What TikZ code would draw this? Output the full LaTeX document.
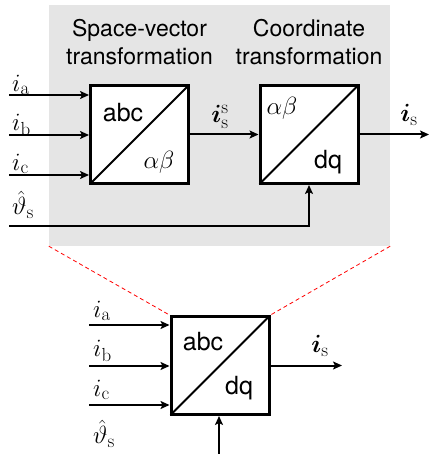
\documentclass[tikz,border=0pt]{standalone}
\usepackage{fontspec}
\setsansfont{TeX Gyre Heros}
\usepackage{amsmath,bm}
\usetikzlibrary{arrows.meta}
\definecolor{bggrey}{RGB}{229,229,229}
\begin{document}
\begin{tikzpicture}[x=1pt,y=-1pt,
  every node/.style={font=\fontsize{27}{32}\selectfont, inner sep=0},
  blk/.style={draw, line width=3pt, minimum width=98pt, minimum height=98pt, fill=white},
  sig/.style={line width=2pt, -{Stealth[length=9pt,width=8pt,inset=2pt]}},
  diag/.style={line width=2pt, shorten <=1.5pt, shorten >=1.5pt},
  lbl/.style={anchor=west},
  txt/.style={font=\sffamily\fontsize{23}{28}\selectfont, align=center},
  btxt/.style={font=\sffamily\fontsize{25}{30}\selectfont},
  zoomline/.style={red, dashed, line width=0.8pt, dash pattern=on 4pt off 3pt}]
\path[use as bounding box] (0,0) rectangle (430,454);
% grey background
\node[fill=bggrey, minimum width=341pt, minimum height=241pt] (bg) at (219.5,125.5) {};
% titles
\node[txt] (t1) at (139.5,42) {Space-vector\\transformation};
\node[txt] (t2) at (309,42) {Coordinate\\transformation};
% blocks
\node[blk] (b1) at (139.5,134.5) {};
\node[blk] (b2) at (309,134.5) {};
\node[blk] (b3) at (220,365.5) {};
\draw[diag] (b1.south west) -- (b1.north east);
\draw[diag] (b2.south west) -- (b2.north east);
\draw[diag] (b3.south west) -- (b3.north east);
% block texts
\node[btxt] (abc1) at (123,113) {abc};
\node (ab1) at (159,162) {$\alpha\beta$};
\node (ab2) at (282,108) {$\alpha\beta$};
\node[btxt] (dq2) at (328,162) {dq};
\node[btxt] (abc3) at (203,342) {abc};
\node[btxt] (dq3) at (239,388) {dq};
% top inputs
\coordinate (ia0) at (9,95);
\coordinate (ib0) at (9,135);
\coordinate (ic0) at (9,175);
\coordinate (th0) at (9,226);
\draw[sig] (ia0) -- (ia0 -| b1.west);
\draw[sig] (ib0) -- (ib0 -| b1.west);
\draw[sig] (ic0) -- (ic0 -| b1.west);
\draw[sig] (th0) -| (b2.south);
\node[lbl] (lia) at (12,85) {$i_{\mathrm{a}}$};
\node[lbl] (lib) at (12,125) {$i_{\mathrm{b}}$};
\node[lbl] (lic) at (12,164) {$i_{\mathrm{c}}$};
\node[lbl] (lth) at (12,205) {$\hat{\vartheta}_{\mathrm{s}}$};
% middle and output
\draw[sig] (b1.east) -- (b2.west);
\node (liss) at (220,117) {$\bm{i}_{\mathrm{s}}^{\mathrm{s}}$};
\coordinate (out1) at (429,134.5);
\draw[sig] (b2.east) -- (out1);
\node (lis1) at (409,115) {$\bm{i}_{\mathrm{s}}$};
% zoom lines
\draw[zoomline] (bg.south west) -- (b3.north west);
\draw[zoomline] (bg.south east) -- (b3.north east);
% bottom inputs
\coordinate (ja0) at (89,325);
\coordinate (jb0) at (89,366);
\coordinate (jc0) at (89,405);
\coordinate (jth) at (219,454);
\draw[sig] (ja0) -- (ja0 -| b3.west);
\draw[sig] (jb0) -- (jb0 -| b3.west);
\draw[sig] (jc0) -- (jc0 -| b3.west);
\draw[sig] (jth) -- (jth |- b3.south);
\node[lbl] (mia) at (93,311) {$i_{\mathrm{a}}$};
\node[lbl] (mib) at (93,351) {$i_{\mathrm{b}}$};
\node[lbl] (mic) at (93,390) {$i_{\mathrm{c}}$};
\node[lbl] (mth) at (93,434) {$\hat{\vartheta}_{\mathrm{s}}$};
\coordinate (out3) at (342,365.5);
\draw[sig] (b3.east) -- (out3);
\node (lis3) at (320,346) {$\bm{i}_{\mathrm{s}}$};
\end{tikzpicture}
\end{document}
